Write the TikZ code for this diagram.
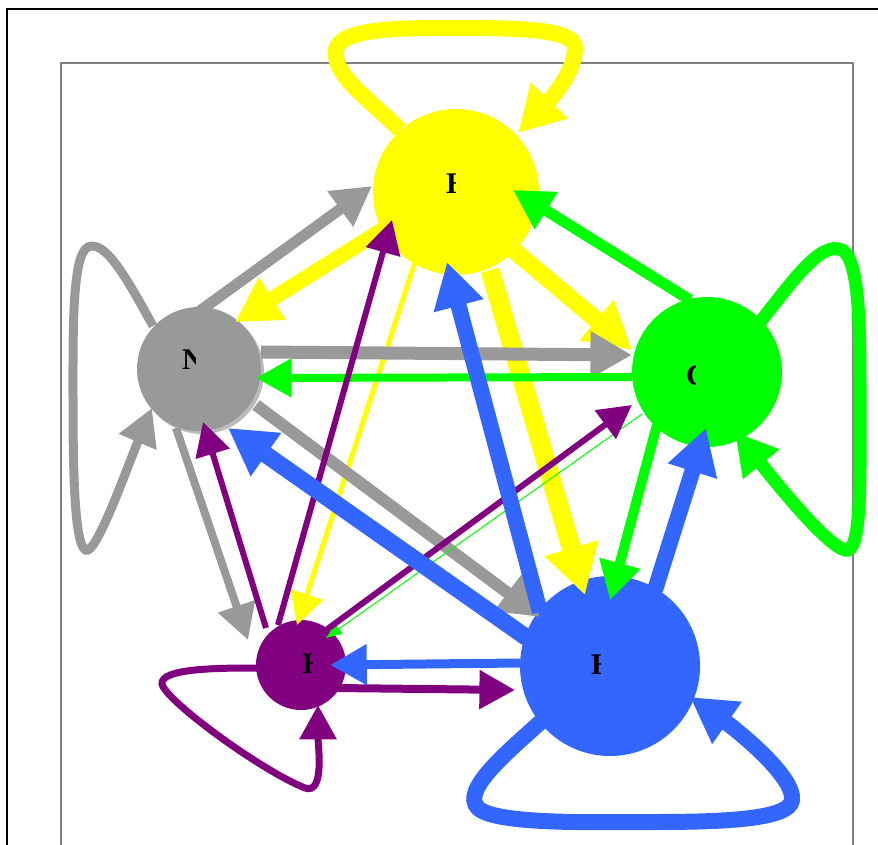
\documentclass[tikz,border=0pt]{standalone}
\usepackage{fontspec}
\setmainfont{Liberation Serif}
\usetikzlibrary{arrows.meta}
\definecolor{cy}{HTML}{FFFF00}
\definecolor{cg}{HTML}{999999}
\definecolor{cgs}{HTML}{BBBBBB}
\definecolor{cgr}{HTML}{00FF00}
\definecolor{cp}{HTML}{800080}
\definecolor{cb}{HTML}{3366FF}
\tikzset{
  vtx/.style={circle,fill=#1,draw=none,inner sep=0pt,outer sep=0pt},
  edg/.style={line width=#1,-{Triangle[length=26pt 1.2,width=26pt 1.4]}},
  thinedg/.style={line width=#1,-{Triangle[length=16pt,width=12pt]}},
  lbl/.style={anchor=base west,inner sep=0pt,font=\fontsize{30}{32}\selectfont\bfseries}
}
\begin{document}
\begin{tikzpicture}[x=1pt,y=-1pt]
\useasboundingbox (0,0) rectangle (878,844);
% frames
\draw[black,line width=1.5pt] (7,850) -- (7,9) -- (885,9);
\draw[gray,line width=2pt] (61,850) -- (61,63) -- (853,63) -- (853,850);
% nodes
\fill[cgs] (202,372) circle (62);
\node[vtx=cy,minimum size=166pt] (Y) at (456,192) {};
\node[vtx=cg,minimum size=124pt] (M) at (199,369) {};
\node[vtx=cgr,minimum size=150pt] (C) at (707,372) {};
\node[vtx=cp,minimum size=90pt] (P) at (301,665) {};
\node[vtx=cb,minimum size=180pt] (B) at (610,666) {};
% yellow edges
\draw[cy,edg=16pt] ([shift={(-56,-62)}]Y.center) .. controls (370,100) and (332,75) .. (336,50)
  .. controls (340,28) and (400,28) .. (455,28) .. controls (520,28) and (575,29) .. (575,48)
  .. controls (575,75) and (545,105) .. ([shift={(62,-59)}]Y.center);
\draw[cy,edg=15pt] ([shift={(-71,36)}]Y.center) -- ([shift={(36,-47)}]M.center);
\draw[cy,edg=17pt] ([shift={(49,51)}]Y.center) -- ([shift={(-75,-22)}]C.center);
\draw[cy,edg=19pt] ([shift={(34,78)}]Y.center) -- ([shift={(-25,-71)}]B.center);
\draw[cy,edg=5pt] ([shift={(-41,70)}]Y.center) -- ([shift={(-4,-40)}]P.center);
% gray edges
\draw[cg,edg=11pt] ([shift={(-2,-56)}]M.center) -- ([shift={(-84,-6)}]Y.center);
\draw[cg,edg=13pt] ([shift={(62,-17)}]M.center) -- ([shift={(-75,-17)}]C.center);
\draw[cg,edg=9pt] ([shift={(-46,-43)}]M.center) .. controls (125,275) and (105,240) .. (88,247)
  .. controls (72,255) and (73,330) .. (73,400) .. controls (73,480) and (75,555) .. (88,550)
  .. controls (100,545) and (130,460) .. ([shift={(-47,39)}]M.center);
\draw[cg,edg=8pt] ([shift={(-23,59)}]M.center) -- ([shift={(-53,-25)}]P.center);
\draw[cg,edg=12pt] ([shift={(57,36)}]M.center) -- ([shift={(-70,-49)}]B.center);
% green edges
\draw[cgr,edg=11pt] ([shift={(-17,-72)}]C.center) -- ([shift={(57,-2)}]Y.center);
\draw[cgr,edg=8pt] ([shift={(-75,5)}]C.center) -- ([shift={(57,9)}]M.center);
\draw[cgr,thinedg=1pt] ([shift={(-65,42)}]C.center) -- ([shift={(25,-27)}]P.center);
\draw[cgr,edg=13pt] ([shift={(53,-50)}]C.center) .. controls (790,285) and (820,240) .. (842,250)
  .. controls (860,260) and (860,330) .. (860,400) .. controls (860,480) and (862,555) .. (845,550)
  .. controls (825,545) and (770,475) .. ([shift={(28,60)}]C.center);
\draw[cgr,edg=10pt] ([shift={(-50,53)}]C.center) -- ([shift={(0,-66)}]B.center);
% purple edges
\draw[cp,edg=6pt] ([shift={(-23,-40)}]P.center) -- ([shift={(-64,28)}]Y.center);
\draw[cp,edg=6pt] ([shift={(-35,-37)}]P.center) -- ([shift={(4,53)}]M.center);
\draw[cp,edg=6pt] ([shift={(17,-29)}]P.center) -- ([shift={(-75,33)}]C.center);
\draw[cp,edg=8pt] ([shift={(35,23)}]P.center) -- ([shift={(-95,24)}]B.center);
\draw[cp,edg=7pt] ([shift={(-43,3)}]P.center) .. controls (220,668) and (160,668) .. (162,684)
  .. controls (165,700) and (260,770) .. (305,788) .. controls (325,795) and (318,745) .. ([shift={(17,40)}]P.center);
% blue edges
\draw[cb,edg=16pt] ([shift={(-70,-54)}]B.center) -- ([shift={(-9,70)}]Y.center);
\draw[cb,edg=17pt] ([shift={(-80,-26)}]B.center) -- ([shift={(29,59)}]M.center);
\draw[cb,edg=16pt] ([shift={(45,-76)}]B.center) -- ([shift={(-1,56)}]C.center);
\draw[cb,edg=9pt] ([shift={(-90,-3)}]B.center) -- ([shift={(29,0)}]P.center);
\draw[cb,edg=16pt] ([shift={(-65,52)}]B.center) .. controls (510,750) and (460,790) .. (478,808)
  .. controls (495,825) and (600,822) .. (650,822) .. controls (720,822) and (790,820) .. (792,800)
  .. controls (795,775) and (730,725) .. ([shift={(80,31)}]B.center);
% clipped labels
\begin{scope}\clip (440,165) rectangle (455,200);
\node[lbl] (Yl) at (446,193) {H};\end{scope}
\begin{scope}\clip (178,340) rectangle (195,376);
\node[lbl] (Ml) at (182,369) {N};\end{scope}
\begin{scope}\clip (682,358) rectangle (695,392);
\node[lbl] (Cl) at (686,385) {C};\end{scope}
\begin{scope}\clip (296,645) rectangle (312,680);
\node[lbl] (Pl) at (302,673) {H};\end{scope}
\begin{scope}\clip (585,645) rectangle (600,681);
\node[lbl] (Bl) at (591,674) {H};\end{scope}
\end{tikzpicture}
\end{document}
